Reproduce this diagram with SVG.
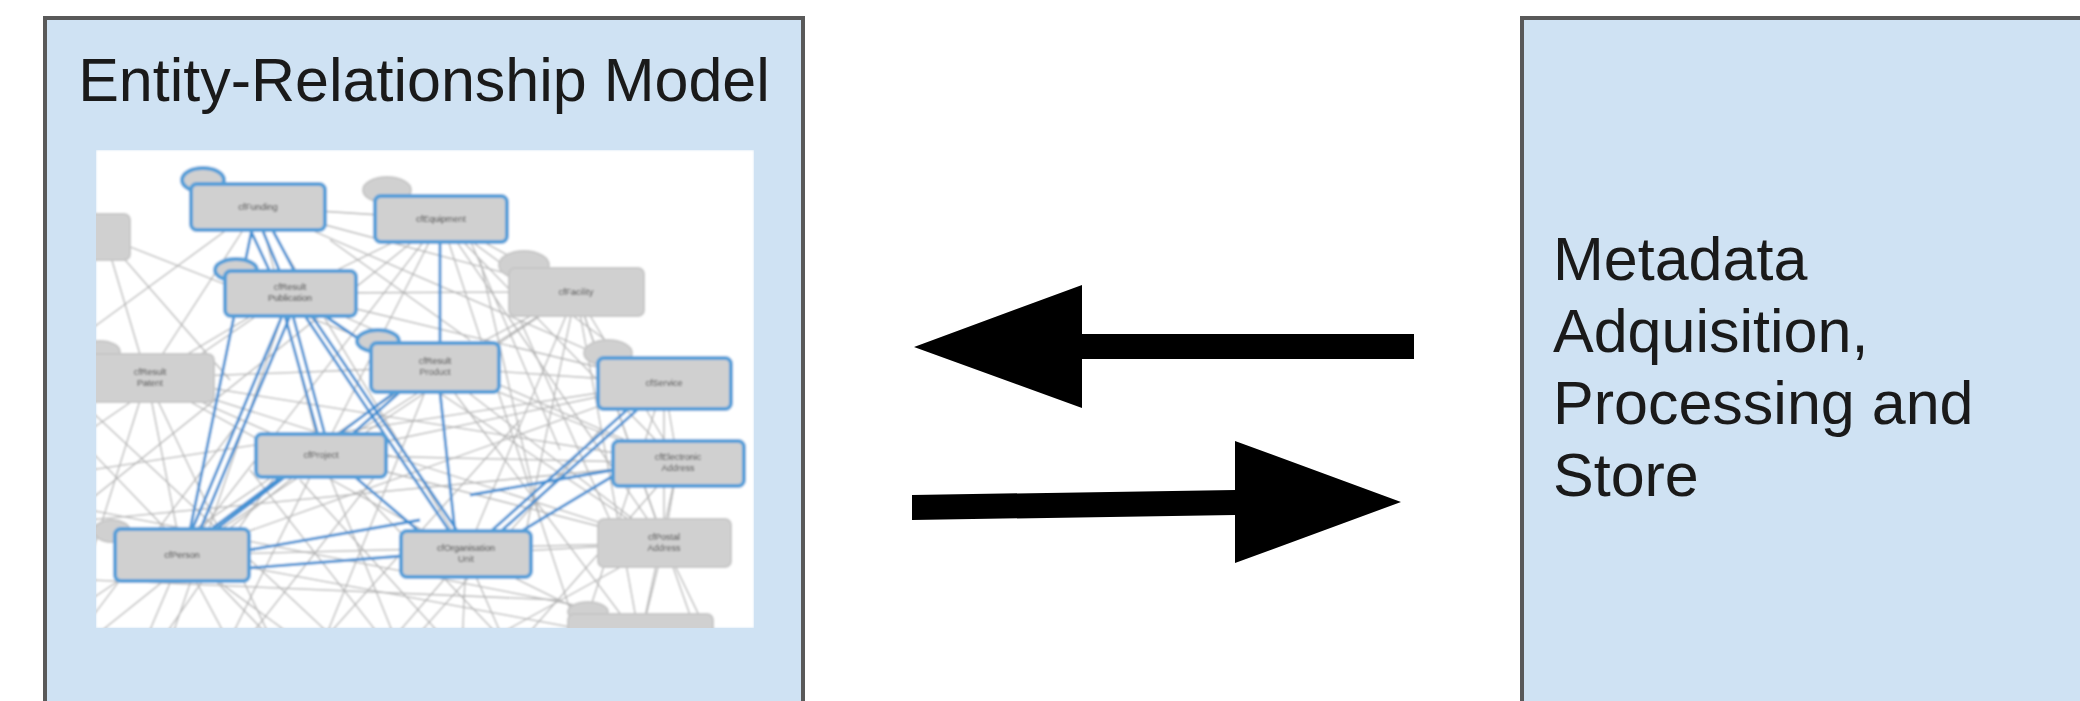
<svg xmlns="http://www.w3.org/2000/svg" width="2080" height="701" viewBox="0 0 2080 701">
<style>
.box{fill:#cfe2f3;stroke:#595959;stroke-width:4}
.title{font-family:"Liberation Sans",Arial,sans-serif;font-size:61px;fill:#1a1a1a}
.ge{stroke:#b3b3b3;stroke-width:1.3;fill:none}
.be{stroke:#3f8fd2;stroke-width:2.8;fill:none}
.nb{fill:#d0d0d0;stroke:#559fd8;stroke-width:4}
.ng{fill:#d0d0d0;stroke:#c6c6c6;stroke-width:2}
.lbl{font-family:"Liberation Sans",Arial,sans-serif;font-size:9px;fill:#444;text-anchor:middle}
.arrow{fill:#000}
</style>
<defs>
<clipPath id="imgclip"><rect x="96" y="150" width="658" height="478"/></clipPath>
<filter id="soft" x="-5%" y="-5%" width="110%" height="110%"><feGaussianBlur stdDeviation="0.8"/></filter>
</defs>

<g id="er-model">
<rect class="box" x="45" y="18" width="758" height="700"/>
<text class="title" x="424" y="101" text-anchor="middle">Entity-Relationship Model</text>
<g id="er-picture" clip-path="url(#imgclip)" filter="url(#soft)">
<rect x="96" y="150" width="658" height="478" fill="#ffffff"/>
<g id="gray-edges">
<line class="ge" x1="258" y1="207" x2="441" y2="219"/>
<line class="ge" x1="258" y1="207" x2="576" y2="292"/>
<line class="ge" x1="258" y1="207" x2="664" y2="383"/>
<line class="ge" x1="258" y1="207" x2="321" y2="455"/>
<line class="ge" x1="258" y1="207" x2="147" y2="378"/>
<line class="ge" x1="258" y1="207" x2="466" y2="554"/>
<line class="ge" x1="441" y1="219" x2="576" y2="292"/>
<line class="ge" x1="441" y1="219" x2="321" y2="455"/>
<line class="ge" x1="441" y1="219" x2="664" y2="383"/>
<line class="ge" x1="441" y1="219" x2="182" y2="555"/>
<line class="ge" x1="441" y1="219" x2="664" y2="543"/>
<line class="ge" x1="441" y1="219" x2="290" y2="293"/>
<line class="ge" x1="441" y1="219" x2="678" y2="463"/>
<line class="ge" x1="290" y1="293" x2="576" y2="292"/>
<line class="ge" x1="290" y1="293" x2="147" y2="378"/>
<line class="ge" x1="290" y1="293" x2="664" y2="383"/>
<line class="ge" x1="290" y1="293" x2="664" y2="543"/>
<line class="ge" x1="290" y1="293" x2="678" y2="463"/>
<line class="ge" x1="576" y1="292" x2="435" y2="367"/>
<line class="ge" x1="576" y1="292" x2="321" y2="455"/>
<line class="ge" x1="576" y1="292" x2="466" y2="554"/>
<line class="ge" x1="576" y1="292" x2="678" y2="463"/>
<line class="ge" x1="576" y1="292" x2="182" y2="555"/>
<line class="ge" x1="576" y1="292" x2="664" y2="543"/>
<line class="ge" x1="576" y1="292" x2="640" y2="640"/>
<line class="ge" x1="576" y1="292" x2="520" y2="560"/>
<line class="ge" x1="147" y1="378" x2="321" y2="455"/>
<line class="ge" x1="147" y1="378" x2="466" y2="554"/>
<line class="ge" x1="147" y1="378" x2="435" y2="367"/>
<line class="ge" x1="147" y1="378" x2="182" y2="555"/>
<line class="ge" x1="147" y1="378" x2="678" y2="463"/>
<line class="ge" x1="147" y1="378" x2="664" y2="543"/>
<line class="ge" x1="435" y1="367" x2="664" y2="383"/>
<line class="ge" x1="435" y1="367" x2="664" y2="543"/>
<line class="ge" x1="435" y1="367" x2="678" y2="463"/>
<line class="ge" x1="435" y1="367" x2="640" y2="640"/>
<line class="ge" x1="664" y1="383" x2="321" y2="455"/>
<line class="ge" x1="664" y1="383" x2="678" y2="463"/>
<line class="ge" x1="664" y1="383" x2="664" y2="543"/>
<line class="ge" x1="664" y1="383" x2="182" y2="555"/>
<line class="ge" x1="321" y1="455" x2="678" y2="463"/>
<line class="ge" x1="321" y1="455" x2="664" y2="543"/>
<line class="ge" x1="182" y1="555" x2="664" y2="543"/>
<line class="ge" x1="182" y1="555" x2="640" y2="640"/>
<line class="ge" x1="466" y1="554" x2="664" y2="543"/>
<line class="ge" x1="466" y1="554" x2="640" y2="640"/>
<line class="ge" x1="664" y1="543" x2="640" y2="640"/>
<line class="ge" x1="678" y1="463" x2="640" y2="640"/>
<line class="ge" x1="678" y1="463" x2="664" y2="543"/>
<line class="ge" x1="105" y1="237" x2="147" y2="378"/>
<line class="ge" x1="105" y1="237" x2="230" y2="380"/>
<line class="ge" x1="105" y1="237" x2="435" y2="367"/>
<line class="ge" x1="182" y1="555" x2="120" y2="700"/>
<line class="ge" x1="182" y1="555" x2="260" y2="700"/>
<line class="ge" x1="182" y1="555" x2="380" y2="700"/>
<line class="ge" x1="321" y1="455" x2="200" y2="700"/>
<line class="ge" x1="321" y1="455" x2="420" y2="700"/>
<line class="ge" x1="321" y1="455" x2="90" y2="640"/>
<line class="ge" x1="466" y1="554" x2="340" y2="700"/>
<line class="ge" x1="466" y1="554" x2="530" y2="700"/>
<line class="ge" x1="466" y1="554" x2="460" y2="700"/>
<line class="ge" x1="147" y1="378" x2="90" y2="560"/>
<line class="ge" x1="147" y1="378" x2="300" y2="700"/>
<line class="ge" x1="435" y1="367" x2="300" y2="700"/>
<line class="ge" x1="435" y1="367" x2="90" y2="600"/>
<line class="ge" x1="664" y1="383" x2="560" y2="700"/>
<line class="ge" x1="664" y1="383" x2="90" y2="470"/>
<line class="ge" x1="664" y1="543" x2="740" y2="700"/>
<line class="ge" x1="576" y1="292" x2="720" y2="700"/>
<line class="ge" x1="678" y1="463" x2="90" y2="520"/>
<line class="ge" x1="678" y1="463" x2="470" y2="700"/>
<line class="ge" x1="290" y1="293" x2="90" y2="430"/>
<line class="ge" x1="290" y1="293" x2="150" y2="700"/>
<line class="ge" x1="441" y1="219" x2="90" y2="500"/>
<line class="ge" x1="441" y1="219" x2="600" y2="700"/>
<line class="ge" x1="258" y1="207" x2="90" y2="330"/>
<line class="ge" x1="640" y1="640" x2="250" y2="700"/>
<line class="ge" x1="664" y1="543" x2="380" y2="700"/>
<line class="ge" x1="90" y1="410" x2="400" y2="700"/>
<line class="ge" x1="90" y1="450" x2="330" y2="700"/>
<line class="ge" x1="90" y1="620" x2="240" y2="420"/>
<line class="ge" x1="120" y1="700" x2="300" y2="440"/>
<line class="ge" x1="200" y1="700" x2="380" y2="470"/>
<line class="ge" x1="270" y1="700" x2="520" y2="420"/>
<line class="ge" x1="360" y1="700" x2="600" y2="430"/>
<line class="ge" x1="430" y1="700" x2="250" y2="470"/>
<line class="ge" x1="500" y1="700" x2="300" y2="480"/>
<line class="ge" x1="560" y1="700" x2="360" y2="490"/>
<line class="ge" x1="90" y1="580" x2="560" y2="600"/>
<line class="ge" x1="90" y1="510" x2="600" y2="610"/>
<line class="ge" x1="480" y1="260" x2="540" y2="520"/>
<line class="ge" x1="520" y1="320" x2="610" y2="520"/>
<line class="ge" x1="470" y1="240" x2="560" y2="450"/>
<line class="ge" x1="330" y1="240" x2="470" y2="340"/>
</g>
<g id="blue-edges">
<line class="be" x1="250" y1="229" x2="270" y2="272"/>
<line class="be" x1="262" y1="229" x2="280" y2="272"/>
<line class="be" x1="272" y1="229" x2="295" y2="272"/>
<line class="be" x1="252" y1="229" x2="190" y2="530"/>
<line class="be" x1="282" y1="316" x2="192" y2="530"/>
<line class="be" x1="290" y1="316" x2="200" y2="530"/>
<line class="be" x1="285" y1="316" x2="318" y2="435"/>
<line class="be" x1="293" y1="316" x2="325" y2="435"/>
<line class="be" x1="305" y1="316" x2="450" y2="532"/>
<line class="be" x1="312" y1="316" x2="458" y2="532"/>
<line class="be" x1="325" y1="316" x2="375" y2="350"/>
<line class="be" x1="440" y1="242" x2="440" y2="344"/>
<line class="be" x1="440" y1="392" x2="455" y2="532"/>
<line class="be" x1="400" y1="392" x2="350" y2="436"/>
<line class="be" x1="395" y1="392" x2="210" y2="530"/>
<line class="be" x1="285" y1="477" x2="215" y2="530" stroke-width="4"/>
<line class="be" x1="249" y1="568" x2="402" y2="556"/>
<line class="be" x1="249" y1="550" x2="420" y2="520"/>
<line class="be" x1="355" y1="477" x2="420" y2="532"/>
<line class="be" x1="627" y1="410" x2="490" y2="532"/>
<line class="be" x1="637" y1="410" x2="500" y2="532"/>
<line class="be" x1="613" y1="476" x2="520" y2="532"/>
<line class="be" x1="613" y1="470" x2="470" y2="495"/>
</g>
<g id="picture-nodes">
<rect class="ng" x="80" y="214" width="50" height="46" rx="6"/>
<ellipse class="nb" cx="203" cy="180" rx="21" ry="12"/>
<rect class="nb" x="191" y="184" width="134" height="46" rx="6"/>
<text class="lbl" x="258" y="210">cfFunding</text>
<ellipse class="ng" cx="387" cy="190" rx="24" ry="13"/>
<rect class="nb" x="375" y="196" width="132" height="46" rx="6"/>
<text class="lbl" x="441" y="222">cfEquipment</text>
<ellipse class="nb" cx="236" cy="270" rx="21" ry="11"/>
<rect class="nb" x="225" y="271" width="131" height="45" rx="6"/>
<text class="lbl" x="290" y="290">cfResult</text>
<text class="lbl" x="290" y="301">Publication</text>
<ellipse class="ng" cx="524" cy="265" rx="25" ry="14"/>
<rect class="ng" x="509" y="268" width="135" height="48" rx="6"/>
<text class="lbl" x="576" y="295">cfFacility</text>
<ellipse class="ng" cx="100" cy="352" rx="20" ry="11"/>
<rect class="ng" x="80" y="354" width="134" height="48" rx="6"/>
<text class="lbl" x="150" y="375">cfResult</text>
<text class="lbl" x="150" y="386">Patent</text>
<ellipse class="nb" cx="378" cy="341" rx="21" ry="11"/>
<rect class="nb" x="371" y="343" width="128" height="49" rx="6"/>
<text class="lbl" x="435" y="364">cfResult</text>
<text class="lbl" x="435" y="375">Product</text>
<ellipse class="ng" cx="608" cy="353" rx="24" ry="13"/>
<rect class="nb" x="598" y="358" width="133" height="51" rx="6"/>
<text class="lbl" x="664" y="386">cfService</text>
<rect class="nb" x="256" y="434" width="130" height="43" rx="6"/>
<text class="lbl" x="321" y="458">cfProject</text>
<rect class="nb" x="613" y="441" width="131" height="45" rx="6"/>
<text class="lbl" x="678" y="460">cfElectronic</text>
<text class="lbl" x="678" y="471">Address</text>
<ellipse class="ng" cx="112" cy="531" rx="18" ry="11"/>
<rect class="nb" x="115" y="529" width="134" height="52" rx="6"/>
<text class="lbl" x="182" y="558">cfPerson</text>
<rect class="nb" x="401" y="531" width="130" height="46" rx="6"/>
<text class="lbl" x="466" y="551">cfOrganisation</text>
<text class="lbl" x="466" y="562">Unit</text>
<rect class="ng" x="598" y="519" width="133" height="48" rx="6"/>
<text class="lbl" x="664" y="540">cfPostal</text>
<text class="lbl" x="664" y="551">Address</text>
<ellipse class="ng" cx="588" cy="612" rx="20" ry="10"/>
<rect class="ng" x="568" y="614" width="145" height="40" rx="6"/>
</g>
</g>
</g>

<g id="metadata">
<rect class="box" x="1522" y="18" width="620" height="700"/>
<text class="title" x="1553" y="280">Metadata</text>
<text class="title" x="1553" y="352">Adquisition,</text>
<text class="title" x="1553" y="424">Processing and</text>
<text class="title" x="1553" y="496">Store</text>
</g>

<g id="connectors">
<path class="arrow" d="M914,347 L1082,285 L1082,334 L1414,334 L1414,359 L1082,359 L1082,408 Z"/>
<path class="arrow" d="M912,495 L1235,490 L1235,441 L1401,502 L1235,563 L1235,515 L912,520 Z"/>
</g>
</svg>
